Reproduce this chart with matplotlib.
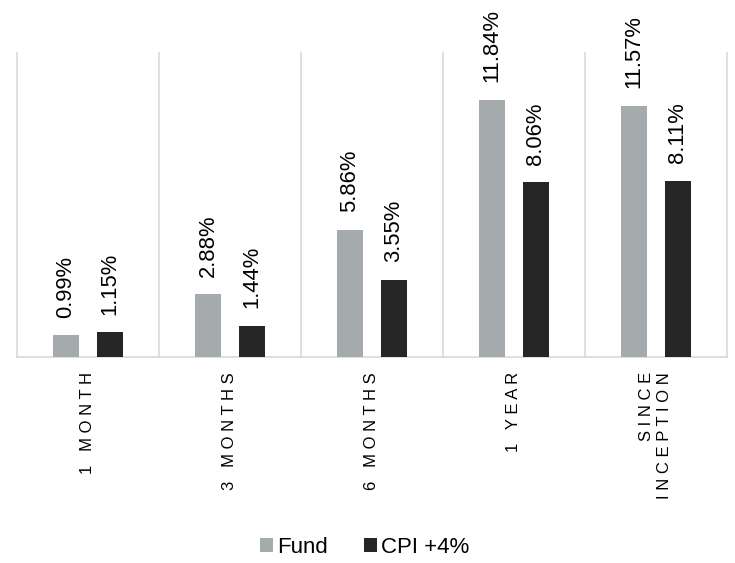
import numpy as np
import matplotlib.pyplot as plt

plt.rcParams['font.family'] = ['Liberation Sans', 'DejaVu Sans']

# Returns per period (%)
categories = ["1 MONTH", "3 MONTHS", "6 MONTHS", "1 YEAR", "SINCE\nINCEPTION"]
fund = [0.99, 2.88, 5.86, 11.84, 11.57]
cpi = [1.15, 1.44, 3.55, 8.06, 8.11]
series_names = ["Fund", "CPI +4%"]

fund_color = "#a5aaad"
cpi_color = "#262626"
grid_color = "#d9d9d9"


def spaced(label):
    # imitate the wide letter spacing of the category labels
    return "\n".join(" ".join(line) for line in label.split("\n"))


fig = plt.figure(figsize=(7.35, 5.63), dpi=100)
ax = fig.add_axes([0.0231, 0.366, 0.966, 0.54])

x = np.arange(len(categories))
w = 0.18
off = 0.155
b1 = ax.bar(x - off, fund, w, color=fund_color, label=series_names[0], zorder=3)
b2 = ax.bar(x + off, cpi, w, color=cpi_color, label=series_names[1], zorder=3)

for bars, vals in [(b1, fund), (b2, cpi)]:
    for rect, v in zip(bars, vals):
        ax.annotate(f"{v:.2f}%", (rect.get_x() + rect.get_width() / 2, v),
                    xytext=(0, 12.5), textcoords="offset points",
                    rotation=90, ha="center", va="bottom", fontsize=15.8,
                    color="#000000")

ax.set_xlim(-0.5, len(categories) - 0.5)
ax.set_ylim(0, 14)

# vertical separators between categories
for b in np.arange(len(categories) + 1) - 0.5:
    ax.axvline(b, color=grid_color, lw=1.2, zorder=1, clip_on=False)

for s in ["top", "left", "right"]:
    ax.spines[s].set_visible(False)
ax.spines["bottom"].set_color(grid_color)
ax.spines["bottom"].set_linewidth(1.2)

ax.set_yticks([])
ax.set_xticks(x)
ax.set_xticklabels([spaced(c) for c in categories], rotation=90, fontsize=12,
                   multialignment="right", linespacing=1.25)
ax.tick_params(axis="x", length=0, pad=11)

fig.legend(handles=[b1, b2], labels=series_names, loc="center",
           bbox_to_anchor=(0.496, 0.028), ncol=2, frameon=False, fontsize=16,
           handlelength=0.6, handleheight=0.6, handletextpad=0.2,
           columnspacing=1.6)

fig.savefig("out.png", dpi=100)
